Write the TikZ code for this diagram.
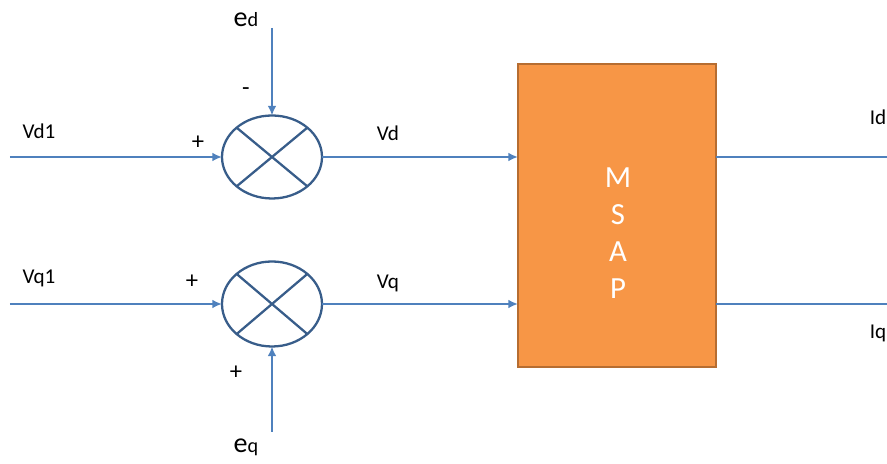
\documentclass[tikz,border=0pt]{standalone}
\usepackage{fontspec}
\setmainfont{Carlito}
\usetikzlibrary{arrows.meta,shapes.geometric}
\definecolor{sigline}{RGB}{79,129,189}
\definecolor{sumline}{RGB}{56,93,138}
\definecolor{plantfill}{RGB}{247,150,70}
\definecolor{plantline}{RGB}{182,109,49}

\begin{document}
\begin{tikzpicture}[
  >={Latex[length=5.5pt,width=5pt]},
  sum/.style={ellipse, draw=sumline, line width=1.3pt, minimum width=2.0cm,
              minimum height=1.66cm, inner sep=0pt, outer sep=0pt},
  plant/.style={draw=plantline, fill=plantfill, line width=1.1pt,
                minimum width=3.96cm, minimum height=6.06cm, outer sep=0pt},
  sig/.style={draw=sigline, line width=1.6pt},
  cross/.style={draw=sumline, line width=1.3pt},
  lbl/.style={font=\fontsize{12}{14}\selectfont, inner sep=0pt},
  sgn/.style={font=\fontsize{14}{16}\selectfont, inner sep=0pt},
  ein/.style={font=\fontsize{16}{18}\selectfont, inner sep=0pt}
]
\useasboundingbox (0,0) rectangle (17.74,-9.28);

% summing points and plant
\node[sum] (s1) at (5.44,-3.14) {};
\node[sum, minimum height=1.7cm] (s2) at (5.44,-6.08) {};
\draw[cross] (s1.north west) -- (s1.south east) (s1.north east) -- (s1.south west);
\draw[cross] (s2.north west) -- (s2.south east) (s2.north east) -- (s2.south west);
\node[plant] (msap) at (12.34,-4.31) {};
\node[text=white, align=center, font=\fontsize{17.5}{21}\selectfont]
  (msapt) at (12.36,-4.66) {M\\S\\A\\P};

% free ends
\coordinate (vd1in) at (0.2,-3.14);
\coordinate (vq1in) at (0.2,-6.08);
\coordinate (edin) at (5.44,-0.56);
\coordinate (eqin) at (5.44,-8.64);
\coordinate (idout) at (17.74,-3.14);
\coordinate (iqout) at (17.74,-6.08);

% signals
\draw[sig, ->] (vd1in) -- (s1.west);
\draw[sig, ->] (vq1in) -- (s2.west);
\draw[sig, ->] (edin) -- (s1.north);
\draw[sig, ->] (eqin) -- (s2.south);
\draw[sig, ->] (s1.east) -- (msap.west |- s1.east);
\draw[sig, ->] (s2.east) -- (msap.west |- s2.east);
\draw[sig] (msap.east |- s1.east) -- (idout);
\draw[sig] (msap.east |- s2.east) -- (iqout);

% labels
\node[lbl] (lvd1) at (0.78,-2.62) {Vd1};
\node[lbl] (lvq1) at (0.78,-5.56) {Vq1};
\node[lbl] (lvd) at (7.76,-2.66) {Vd};
\node[lbl] (lvq) at (7.76,-5.66) {Vq};
\node[lbl] (lid) at (17.56,-2.34) {Id};
\node[lbl] (liq) at (17.56,-6.66) {Iq};
\node[sgn] (p1) at (3.96,-2.86) {+};
\node[sgn] (m1) at (4.92,-1.84) {-};
\node[sgn] (p2) at (3.84,-5.64) {+};
\node[sgn] (p3) at (4.72,-7.46) {+};
\node[ein, anchor=base] (led) at (4.92,-0.54) {e{\fontsize{11.5}{13}\selectfont d}};
\node[ein, anchor=base] (leq) at (4.92,-9.06) {e{\fontsize{11.5}{13}\selectfont q}};
\end{tikzpicture}
\end{document}
